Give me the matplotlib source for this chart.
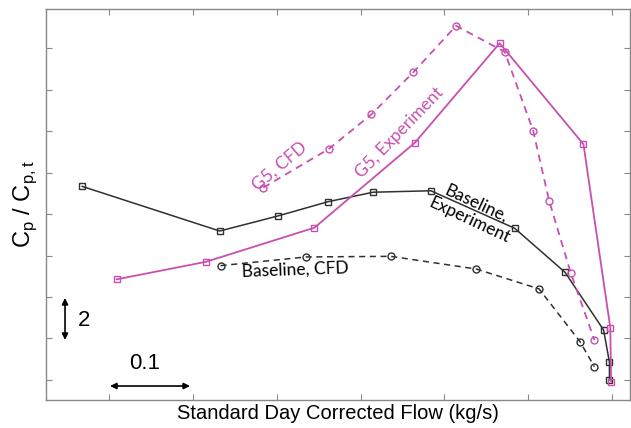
import matplotlib
matplotlib.use("Agg")
import matplotlib.pyplot as plt

# values (x in kg/s, y in Cp/Cp,t units)
base_exp_x = [0.068, 0.232, 0.301, 0.361, 0.415, 0.484, 0.584, 0.644, 0.690, 0.697, 0.697]
base_exp_y = [9.33, 7.18, 7.90, 8.59, 9.05, 9.12, 7.31, 5.19, 2.41, 0.85, 0.0]

base_cfd_x = [0.233, 0.335, 0.436, 0.538, 0.613, 0.662, 0.679]
base_cfd_y = [5.51, 5.93, 5.96, 5.35, 4.39, 1.84, 0.64]

g5_exp_x = [0.109, 0.216, 0.345, 0.465, 0.566, 0.666, 0.698, 0.699]
g5_exp_y = [4.85, 5.70, 7.34, 11.44, 16.23, 11.36, 2.52, -0.08]

g5_cfd_x = [0.284, 0.362, 0.413, 0.463, 0.514, 0.572, 0.606, 0.625, 0.651, 0.679]
g5_cfd_y = [9.27, 11.13, 12.80, 14.83, 17.07, 15.82, 12.01, 8.64, 5.14, 1.93]

x_ticks = [0.1, 0.2, 0.3, 0.4, 0.5, 0.6, 0.7]
y_ticks = [0, 2, 4, 6, 8, 10, 12, 14, 16]

MAGENTA = '#c84fb0'
DARK = '#303030'

fig = plt.figure(figsize=(6.31, 4.28), dpi=100)
ax = fig.add_axes([46 / 631, 28 / 428, 584 / 631, 391 / 428])

ax.plot(base_exp_x, base_exp_y, '-', color=DARK, lw=1.1, marker='s', ms=4.5,
        mfc='none', mec=DARK, mew=1.0)
ax.plot(base_cfd_x, base_cfd_y, '--', color=DARK, lw=1.1, marker='o', ms=5,
        mfc='none', mec=DARK, mew=1.0, dashes=(4, 3))
ax.plot(g5_exp_x, g5_exp_y, '-', color=MAGENTA, lw=1.3, marker='s', ms=4.5,
        mfc='none', mec=MAGENTA, mew=1.0)
ax.plot(g5_cfd_x, g5_cfd_y, '--', color=MAGENTA, lw=1.3, marker='o', ms=5,
        mfc='none', mec=MAGENTA, mew=1.0, dashes=(4, 3))

ax.set_xlim(0.0248, 0.7215)
ax.set_ylim(-0.964, 17.88)
ax.set_xticks(x_ticks)
ax.set_yticks(y_ticks)
ax.tick_params(direction='in', length=4, width=0.8, color='#888888',
               top=True, right=True, labelbottom=False, labelleft=False)
for sp in ax.spines.values():
    sp.set_color('#888888')
    sp.set_linewidth(1.0)

ax.set_xlabel('Standard Day Corrected Flow (kg/s)', fontsize=14.5,
              family='Liberation Sans', labelpad=3)
ax.set_ylabel(r'C$_\mathregular{p}$ / C$_\mathregular{p,t}$', fontsize=17,
              family='Liberation Sans', labelpad=5)

# series labels
ann = dict(family='Lato', fontsize=12.5, ha='center', va='center')
ax.text(0.304, 10.3, 'G5, CFD', color=MAGENTA, rotation=40, **ann)
ax.text(0.446, 11.9, 'G5, Experiment', color=MAGENTA, rotation=46, **ann)
ax.text(0.534, 8.1, 'Baseline,\nExperiment', color='black', rotation=-25,
        linespacing=1.15, **ann)
ax.text(0.322, 5.3, 'Baseline, CFD', color='black', rotation=2, **ann)

# scale bars
arw = dict(arrowstyle='<|-|>', color='black', lw=1.2, mutation_scale=9,
           shrinkA=0, shrinkB=0)
ax.annotate('', xy=(0.0475, 1.93), xytext=(0.0475, 3.95), arrowprops=arw)
ax.annotate('', xy=(0.1012, -0.29), xytext=(0.1966, -0.29), arrowprops=arw)
ax.text(0.0705, 2.85, '2', fontsize=16, family='Liberation Sans',
        ha='center', va='center')
ax.text(0.1425, 0.80, '0.1', fontsize=16, family='Liberation Sans',
        ha='center', va='center')

fig.savefig('out.png', dpi=100)
